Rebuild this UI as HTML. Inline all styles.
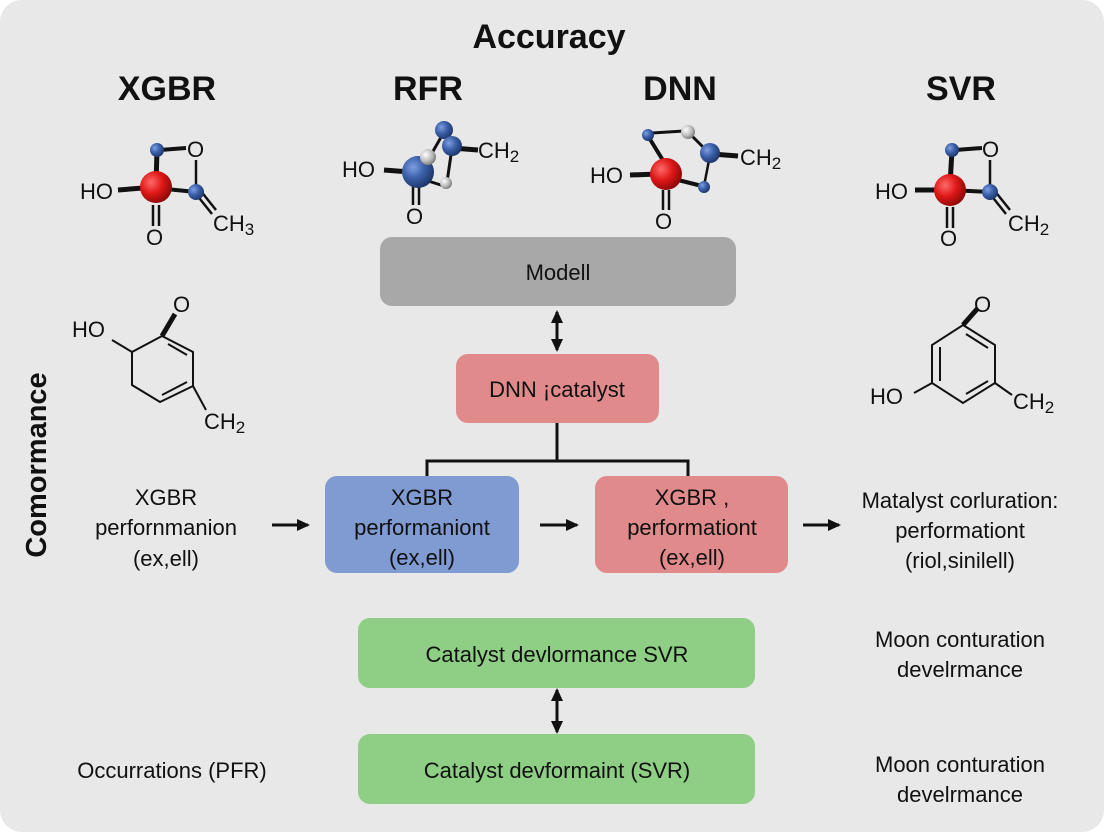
<!DOCTYPE html>
<html><head><meta charset="utf-8"><style>
html,body{margin:0;padding:0;background:#fff}
svg{display:block}
text{font-family:"Liberation Sans",Arial,sans-serif;fill:#111}
</style></head><body>
<svg width="1104" height="832" viewBox="0 0 1104 832">
<defs>
<radialGradient id="rd" cx="35%" cy="35%" r="70%"><stop offset="0" stop-color="#ff6a6a"/><stop offset=".5" stop-color="#e01818"/><stop offset="1" stop-color="#8a0808"/></radialGradient>
<radialGradient id="bl" cx="35%" cy="35%" r="70%"><stop offset="0" stop-color="#7f9ee0"/><stop offset=".5" stop-color="#3a5fa8"/><stop offset="1" stop-color="#1d3566"/></radialGradient>
<radialGradient id="gr" cx="35%" cy="35%" r="70%"><stop offset="0" stop-color="#fff"/><stop offset=".6" stop-color="#bbb"/><stop offset="1" stop-color="#777"/></radialGradient>
<marker id="ah" markerWidth="14" markerHeight="14" refX="11" refY="7" orient="auto-start-reverse" markerUnits="userSpaceOnUse"><path d="M0,1 L13,7 L0,13 z" fill="#111"/></marker>
</defs>
<rect x="0" y="0" width="1104" height="832" rx="22" fill="#e8e8e8"/>
<text x="549" y="48" font-size="34" font-weight="bold" text-anchor="middle">Accuracy</text>
<g font-size="34" font-weight="bold" text-anchor="middle">
<text x="167" y="100">XGBR</text><text x="428" y="100">RFR</text><text x="680" y="100">DNN</text><text x="961" y="100">SVR</text></g>
<text transform="translate(46,465) rotate(-90)" font-size="29" font-weight="bold" text-anchor="middle">Comormance</text>

<g stroke="#111" stroke-width="2.5" fill="none">
<line x1="118" y1="190" x2="156" y2="187" stroke-width="5"/>
<line x1="157" y1="150" x2="156" y2="185" stroke-width="5"/>
<line x1="160" y1="150" x2="186" y2="148" stroke-width="4"/>
<line x1="196" y1="160" x2="196" y2="188"/>
<line x1="156" y1="188" x2="196" y2="192" stroke-width="4"/>
<line x1="153" y1="205" x2="153" y2="226"/><line x1="159" y1="205" x2="159" y2="226"/>
<line x1="196" y1="194" x2="212" y2="214"/><line x1="200" y1="190" x2="216" y2="210"/>
</g>
<circle cx="156" cy="187" r="16" fill="url(#rd)"/><circle cx="157" cy="150" r="7" fill="url(#bl)"/><circle cx="196" cy="192" r="8" fill="url(#bl)"/>
<g font-size="22"><text x="80" y="199">HO</text><text x="187" y="157">O</text><text x="146" y="245">O</text><text x="213" y="231">CH<tspan font-size="17" dy="4">3</tspan></text></g>

<g stroke="#111" stroke-width="2.5" fill="none">
<line x1="915" y1="190" x2="950" y2="190" stroke-width="5"/>
<line x1="952" y1="150" x2="950" y2="185" stroke-width="5"/>
<line x1="955" y1="150" x2="982" y2="148" stroke-width="4"/>
<line x1="990" y1="160" x2="990" y2="188"/>
<line x1="950" y1="190" x2="990" y2="192" stroke-width="4"/>
<line x1="947" y1="207" x2="947" y2="228"/><line x1="953" y1="207" x2="953" y2="228"/>
<line x1="990" y1="194" x2="1006" y2="214"/><line x1="994" y1="190" x2="1010" y2="210"/>
</g>
<circle cx="950" cy="190" r="16" fill="url(#rd)"/><circle cx="952" cy="150" r="7" fill="url(#bl)"/><circle cx="990" cy="192" r="8" fill="url(#bl)"/>
<g font-size="22"><text x="875" y="199">HO</text><text x="982" y="157">O</text><text x="940" y="246">O</text><text x="1008" y="231">CH<tspan font-size="17" dy="4">2</tspan></text></g>

<g stroke="#111" stroke-width="2.5" fill="none">
<line x1="384" y1="170" x2="410" y2="172" stroke-width="5"/>
<line x1="444" y1="132" x2="428" y2="160" stroke-width="3"/>
<line x1="452" y1="148" x2="447" y2="182" stroke-width="3"/>
<line x1="452" y1="148" x2="478" y2="150" stroke-width="5"/>
<line x1="413" y1="185" x2="413" y2="205"/><line x1="419" y1="185" x2="419" y2="205"/>
<line x1="425" y1="180" x2="444" y2="186" stroke-width="3"/>
</g>
<circle cx="418" cy="172" r="16" fill="url(#bl)"/><circle cx="444" cy="130" r="9" fill="url(#bl)"/><circle cx="452" cy="146" r="10" fill="url(#bl)"/><circle cx="428" cy="157" r="8" fill="url(#gr)"/><circle cx="446" cy="183" r="6" fill="url(#gr)"/>
<g font-size="22"><text x="342" y="177">HO</text><text x="406" y="224">O</text><text x="478" y="158">CH<tspan font-size="17" dy="4">2</tspan></text></g>

<g stroke="#111" stroke-width="2.5" fill="none">
<line x1="630" y1="175" x2="658" y2="174" stroke-width="5"/>
<line x1="648" y1="136" x2="664" y2="162" stroke-width="4"/>
<line x1="652" y1="133" x2="684" y2="131" stroke-width="3"/>
<line x1="690" y1="134" x2="706" y2="150" stroke-width="3"/>
<line x1="710" y1="155" x2="704" y2="186"/>
<line x1="712" y1="154" x2="738" y2="156" stroke-width="5"/>
<line x1="670" y1="178" x2="702" y2="186" stroke-width="4"/>
<line x1="663" y1="190" x2="663" y2="210"/><line x1="669" y1="190" x2="669" y2="210"/>
</g>
<circle cx="666" cy="174" r="16" fill="url(#rd)"/><circle cx="648" cy="135" r="6" fill="url(#bl)"/><circle cx="688" cy="132" r="7" fill="url(#gr)"/><circle cx="710" cy="153" r="10" fill="url(#bl)"/><circle cx="704" cy="187" r="6" fill="url(#bl)"/>
<g font-size="22"><text x="590" y="183">HO</text><text x="655" y="229">O</text><text x="740" y="165">CH<tspan font-size="17" dy="4">2</tspan></text></g>

<g stroke="#111" stroke-width="2" fill="none">
<polyline points="112,340 132,352 132,385 160,402 193,386 193,352 162,336 132,352"/>
<line x1="162" y1="336" x2="175" y2="314" stroke-width="5"/>
<line x1="168" y1="344" x2="187" y2="355"/>
<line x1="162" y1="395" x2="187" y2="382"/>
<line x1="193" y1="386" x2="206" y2="410"/>
</g>
<g font-size="22"><text x="72" y="337">HO</text><text x="173" y="312">O</text><text x="204" y="429">CH<tspan font-size="17" dy="4">2</tspan></text></g>

<g stroke="#111" stroke-width="2" fill="none">
<polygon points="963,325 995,345 995,383 963,403 932,383 932,345"/>
<line x1="963" y1="325" x2="978" y2="308" stroke-width="5"/>
<line x1="966" y1="334" x2="988" y2="348"/>
<line x1="940" y1="347" x2="940" y2="381"/>
<line x1="966" y1="394" x2="988" y2="381"/>
<line x1="932" y1="383" x2="914" y2="393"/>
<line x1="995" y1="383" x2="1012" y2="395"/>
</g>
<g font-size="22"><text x="870" y="404">HO</text><text x="974" y="312">O</text><text x="1013" y="409">CH<tspan font-size="17" dy="4">2</tspan></text></g>

<rect x="380" y="237" width="356" height="69" rx="12" fill="#a8a8a8"/>
<text x="558" y="280" font-size="22" text-anchor="middle">Modell</text>
<line x1="557" y1="312" x2="557" y2="350" stroke="#111" stroke-width="3" marker-start="url(#ah)" marker-end="url(#ah)"/>
<rect x="456" y="354" width="203" height="69" rx="12" fill="#e18a8c"/>
<text x="557" y="397" font-size="22" text-anchor="middle">DNN ¡catalyst</text>
<g stroke="#111" stroke-width="3" fill="none">
<line x1="557" y1="423" x2="557" y2="461"/>
<polyline points="427,476 427,461 688,461 688,476"/>
</g>
<rect x="325" y="476" width="194" height="97" rx="12" fill="#7f9bd2"/>
<rect x="595" y="476" width="193" height="97" rx="12" fill="#e18a8c"/>
<g font-size="22" text-anchor="middle">
<text x="422" y="505">XGBR</text><text x="422" y="535">performaniont</text><text x="422" y="565">(ex,ell)</text>
<text x="692" y="505">XGBR ,</text><text x="692" y="535">performationt</text><text x="692" y="565">(ex,ell)</text>
<text x="166" y="505">XGBR</text><text x="166" y="535">perfornmanion</text><text x="166" y="566">(ex,ell)</text>
<text x="960" y="508">Matalyst corluration:</text><text x="960" y="538">performationt</text><text x="960" y="568">(riol,sinilell)</text>
</g>
<g stroke="#111" stroke-width="3">
<line x1="272" y1="525" x2="308" y2="525" marker-end="url(#ah)"/>
<line x1="540" y1="525" x2="577" y2="525" marker-end="url(#ah)"/>
<line x1="803" y1="525" x2="839" y2="525" marker-end="url(#ah)"/>
</g>
<rect x="358" y="618" width="397" height="70" rx="12" fill="#8fcf85"/>
<text x="557" y="662" font-size="22" text-anchor="middle">Catalyst devlormance  SVR</text>
<line x1="557" y1="690" x2="557" y2="732" stroke="#111" stroke-width="3" marker-start="url(#ah)" marker-end="url(#ah)"/>
<rect x="358" y="734" width="397" height="70" rx="12" fill="#8fcf85"/>
<text x="557" y="778" font-size="22" text-anchor="middle">Catalyst devformaint (SVR)</text>
<g font-size="22" text-anchor="middle">
<text x="172" y="778">Occurrations  (PFR)</text>
<text x="960" y="647">Moon conturation</text><text x="960" y="677">develrmance</text>
<text x="960" y="772">Moon conturation</text><text x="960" y="802">develrmance</text>
</g>
</svg>
</body></html>
